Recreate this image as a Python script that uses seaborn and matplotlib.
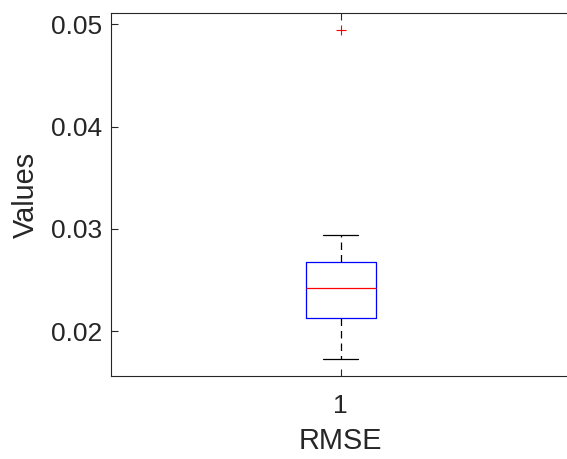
import matplotlib
matplotlib.use("Agg")
import matplotlib.pyplot as plt
import seaborn as sns
import pandas as pd

# Values (min, q1, median, q3, whisker max, outlier)
group_labels = ["1"]
rmse_values = [0.01729, 0.02127, 0.02127, 0.02423, 0.02423,
               0.02680, 0.02680, 0.02944, 0.04947]
y_ticks = [0.02, 0.03, 0.04, 0.05]
y_tick_labels = ["0.02", "0.03", "0.04", "0.05"]

df = pd.DataFrame({"group": group_labels * len(rmse_values), "value": rmse_values})

sns.set_style("white")
plt.rcParams["font.family"] = ["Liberation Sans", "DejaVu Sans"]

W, H = 567, 459
fig = plt.figure(figsize=(W / 100, H / 100), dpi=100)
left, right, top, bottom = 110.5, 571.0, 13.3, 375.7
ax = fig.add_axes([left / W, 1 - bottom / H, (right - left) / W, (bottom - top) / H])

axis_col = "#262626"
lw = 0.9
sns.boxplot(data=df, x="group", y="value", ax=ax, fill=False, width=0.152,
            linecolor="black", linewidth=lw, whis=1.5,
            boxprops=dict(color="blue", linewidth=lw),
            medianprops=dict(color="red", linewidth=lw),
            whiskerprops=dict(color="black", linestyle=(0, (6, 4)), linewidth=lw),
            capprops=dict(color="black", linewidth=lw),
            capwidths=0.076,
            flierprops=dict(marker="+", markeredgecolor="red", markersize=7,
                            markeredgewidth=0.8))

ax.set_xlim(-0.5, 0.5)
ax.set_ylim(0.01566, 0.05108)
ax.set_yticks(y_ticks)
ax.set_yticklabels(y_tick_labels)

for s in ["left", "top", "bottom", "right"]:
    ax.spines[s].set_visible(True)
    ax.spines[s].set_color(axis_col)
    ax.spines[s].set_linewidth(0.8)

ax.tick_params(axis="both", direction="in", length=5, width=0.8, color=axis_col,
               labelcolor=axis_col, labelsize=19, top=True, right=False,
               left=True, bottom=True)
ax.tick_params(axis="y", pad=6)
ax.tick_params(axis="x", pad=13)

ax.set_xlabel("RMSE", fontsize=20.8, color=axis_col, labelpad=7)
ax.set_ylabel("Values", fontsize=20.8, color=axis_col, labelpad=8)

fig.savefig("out.png", dpi=100)
